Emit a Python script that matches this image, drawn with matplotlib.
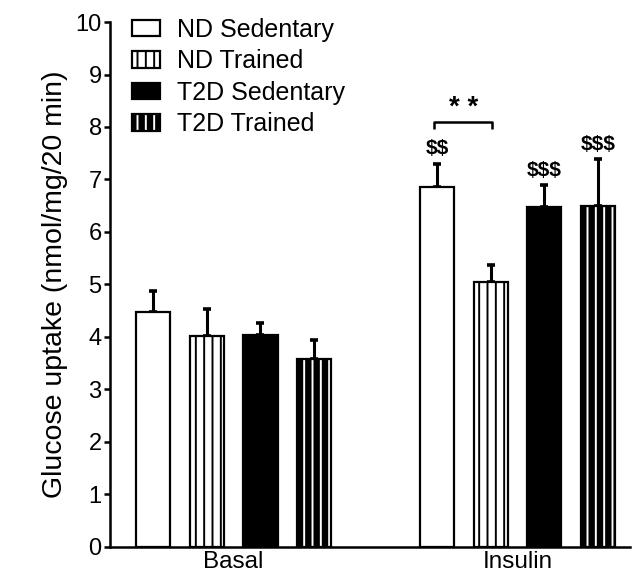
import numpy as np
import matplotlib
matplotlib.use("Agg")
import matplotlib.pyplot as plt
from matplotlib.legend_handler import HandlerTuple

plt.rcParams["font.family"] = ["Liberation Sans", "DejaVu Sans"]
plt.rcParams["hatch.linewidth"] = 1.4

# DATA
conditions = ["Basal", "Insulin"]
groups     = ["ND Sedentary", "ND Trained", "T2D Sedentary", "T2D Trained"]
means = {
    "ND Sedentary":  [4.48, 6.86],
    "ND Trained":    [4.02, 5.05],
    "T2D Sedentary": [4.04, 6.47],
    "T2D Trained":   [3.59, 6.49],
}
sems = {
    "ND Sedentary":  [0.40, 0.44],
    "ND Trained":    [0.52, 0.33],
    "T2D Sedentary": [0.22, 0.42],
    "T2D Trained":   [0.35, 0.90],
}
dollar_marks = {"ND Sedentary": [None, "$$"], "ND Trained": [None, None],
                "T2D Sedentary": [None, "$$$"], "T2D Trained": [None, "$$$"]}

# STYLE
face  = {"ND Sedentary": "white", "ND Trained": "white",
         "T2D Sedentary": "black", "T2D Trained": "black"}
hatch = {"ND Sedentary": "", "ND Trained": "||",
         "T2D Sedentary": "", "T2D Trained": "||"}
hatch_col = {"ND Sedentary": "black", "ND Trained": "black",
             "T2D Sedentary": "black", "T2D Trained": "white"}

group_start = [0.0, 5.3]   # x of first bar in each condition
width = 0.64
lw = 1.6

fig = plt.figure(figsize=(6.35, 5.73), dpi=100)
ax = fig.add_axes([0.1732, 0.0454, 0.992 - 0.1732, 0.9616 - 0.0454])

handles = []
for gi, g in enumerate(groups):
    xs = np.array(group_start) + gi
    # hatch layer (hatch colour follows edgecolor)
    ax.bar(xs, means[g], width, color=face[g], edgecolor=hatch_col[g],
           hatch=hatch[g], linewidth=0, zorder=2)
    # outline layer
    ax.bar(xs, means[g], width, facecolor="none", edgecolor="black",
           linewidth=lw, zorder=3)
    ax.errorbar(xs, means[g], yerr=[np.zeros(len(xs)), sems[g]], fmt="none",
                ecolor="black", elinewidth=2.2, capsize=3.2, capthick=2.6, zorder=1)
    h1 = plt.Rectangle((0, 0), 1, 1, facecolor=face[g], edgecolor=hatch_col[g],
                       hatch=hatch[g], linewidth=0)
    h2 = plt.Rectangle((0, 0), 1, 1, facecolor="none", edgecolor="black", linewidth=lw)
    handles.append((h1, h2))
    for ci, mark in enumerate(dollar_marks[g]):
        if mark:
            ax.text(xs[ci], means[g][ci] + sems[g][ci] + 0.1, mark, ha="center",
                    va="bottom", fontsize=15, fontweight="bold", parse_math=False)

# significance bracket between ND Sedentary and ND Trained (insulin)
bx0 = group_start[1] - 0.05
bx1 = group_start[1] + 1.03
ax.plot([bx0, bx0, bx1, bx1], [7.97, 8.1, 8.1, 7.97], color="black", lw=1.8,
        solid_capstyle="butt")
ax.text((bx0 + bx1) / 2, 8.12, "* *", ha="center", va="bottom", fontsize=20,
        fontweight="bold")

ax.set_xlim(-0.81, 8.9)
ax.set_ylim(0, 10)
ax.set_yticks(np.arange(0, 11, 1))
ax.set_xticks([group_start[0] + 1.5, group_start[1] + 1.5])
ax.set_xticklabels(conditions)
ax.tick_params(axis="x", length=0, labelsize=17.5, pad=3)
ax.tick_params(axis="y", length=4, width=1.8, labelsize=17, pad=2)
ax.set_ylabel("Glucose uptake (nmol/mg/20 min)", fontsize=20.5, labelpad=5)

for side in ["top", "right"]:
    ax.spines[side].set_visible(False)
for side in ["left", "bottom"]:
    ax.spines[side].set_linewidth(1.8)

ax.legend(handles, groups, handler_map={tuple: HandlerTuple(ndivide=1)},
          loc="upper left", bbox_to_anchor=(0.043, 1.008), frameon=False,
          fontsize=18, handlelength=1.1, handleheight=0.65,
          handletextpad=0.7, labelspacing=0.3, borderpad=0.0, borderaxespad=0.0)

fig.savefig("out.png", dpi=100)
